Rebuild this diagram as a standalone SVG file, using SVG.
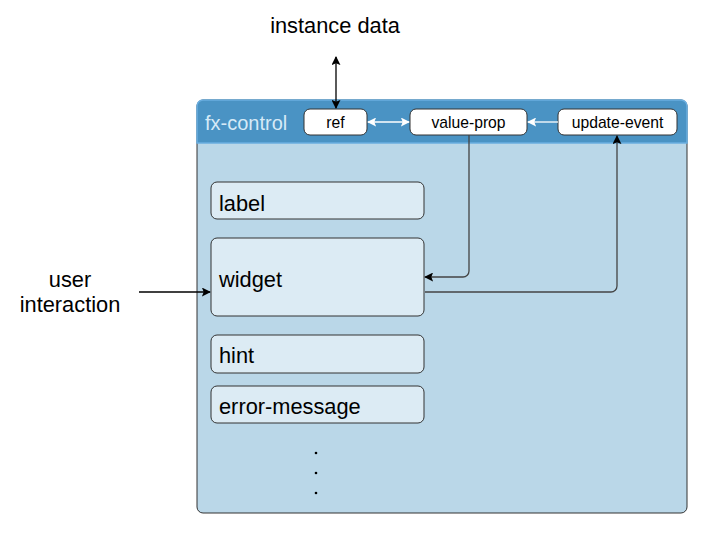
<svg xmlns="http://www.w3.org/2000/svg" width="709" height="545" viewBox="0 0 709 545">
<defs>
<style>
.t{font-family:"Liberation Sans",Arial,sans-serif;fill:#000}
.box{fill:#dcebf4;stroke:#333;stroke-width:1}
.hb{fill:#fff;stroke:#333;stroke-width:1}
.ln{fill:none;stroke:#444;stroke-width:1.3}
.wl{fill:none;stroke:#fff;stroke-width:1.3}
</style>
<marker id="ab" viewBox="0 0 10 10" refX="9" refY="5" markerWidth="9" markerHeight="9" markerUnits="userSpaceOnUse" orient="auto-start-reverse"><path d="M0,0 L10,5 L0,10 L2,5 Z" fill="#000"/></marker>
<marker id="aw" viewBox="0 0 10 10" refX="9" refY="5" markerWidth="9" markerHeight="9" markerUnits="userSpaceOnUse" orient="auto-start-reverse"><path d="M0,0 L10,5 L0,10 L2,5 Z" fill="#fff"/></marker>
</defs>
<g id="fx-control">
<rect x="197" y="100" width="490" height="413" rx="6" fill="#bad7e8" stroke="#333" stroke-width="1"/>
<path d="M197,143 V106 a6,6 0 0 1 6,-6 H681 a6,6 0 0 1 6,6 V143 Z" fill="#4a93c4" stroke="#6aaee0" stroke-width="1.5"/>
<text class="t" x="205" y="130" font-size="20" style="fill:#d6eaf7">fx-control</text>
</g>
<g id="ref"><rect class="hb" x="304" y="109" width="63" height="26" rx="6"/><text class="t" x="335.5" y="128" font-size="15.7" text-anchor="middle">ref</text></g>
<g id="value-prop"><rect class="hb" x="410" y="109" width="117" height="26" rx="6"/><text class="t" x="468.5" y="128" font-size="15.7" text-anchor="middle">value-prop</text></g>
<g id="update-event"><rect class="hb" x="558" y="109" width="119" height="26" rx="6"/><text class="t" x="617.5" y="128" font-size="15.7" text-anchor="middle">update-event</text></g>
<g id="label"><rect class="box" x="211" y="182" width="213" height="37" rx="6"/><text class="t" x="219" y="211" font-size="21.8">label</text></g>
<g id="widget"><rect class="box" x="211" y="238" width="213" height="78" rx="6"/><text class="t" x="219" y="287" font-size="21.8">widget</text></g>
<g id="hint"><rect class="box" x="211" y="335" width="213" height="38" rx="6"/><text class="t" x="219" y="363" font-size="21.8">hint</text></g>
<g id="error-message"><rect class="box" x="211" y="386" width="213" height="37" rx="6"/><text class="t" x="219" y="414" font-size="21.8">error-message</text></g>
<g id="dots"><circle cx="316" cy="453" r="1.3" fill="#000"/><circle cx="316" cy="473" r="1.3" fill="#000"/><circle cx="316" cy="493" r="1.3" fill="#000"/></g>
<g id="instance-data"><text class="t" x="335" y="33" font-size="21.8" text-anchor="middle">instance data</text></g>
<g id="user-interaction"><text class="t" x="70" y="287" font-size="21.8" text-anchor="middle">user</text><text class="t" x="70" y="312" font-size="21.8" text-anchor="middle">interaction</text></g>
<g id="connectors">
<line class="ln" x1="336" y1="57" x2="336" y2="108" marker-start="url(#ab)" marker-end="url(#ab)" style="stroke:#000"/>
<line class="wl" x1="368" y1="122" x2="409" y2="122" marker-start="url(#aw)" marker-end="url(#aw)"/>
<line class="wl" x1="558" y1="122" x2="528" y2="122" marker-end="url(#aw)"/>
<path class="ln" d="M469,135 V271 a6,6 0 0 1 -6,6 H425" marker-end="url(#ab)"/>
<path class="ln" d="M425,292 H611 a6,6 0 0 0 6,-6 V136" marker-end="url(#ab)"/>
<line class="ln" x1="139" y1="292" x2="210" y2="292" marker-end="url(#ab)" style="stroke:#000"/>
</g>
</svg>
